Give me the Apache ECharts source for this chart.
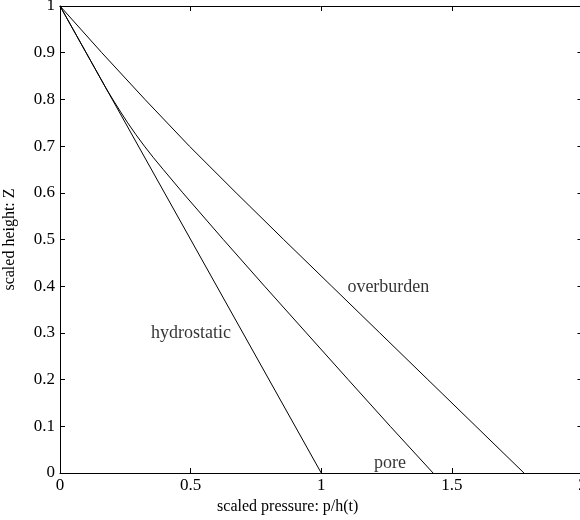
<!DOCTYPE html>
<html>
<head>
<meta charset="utf-8">
<script src="https://cdn.jsdelivr.net/npm/echarts@6/dist/echarts.min.js"></script>
<style>
html,body{margin:0;padding:0;background:#fff;}
#chart{width:580px;height:520px;}
</style>
</head>
<body>
<div id="chart"></div>
<script>
// scaled height Z (y) and scaled pressure p/h(t) (x) for each curve
const hydroZ = [1, 0];
const hydroP = [0, 1];

const poreZ = [1, 0.9, 0.85, 0.825, 0.8, 0.775, 0.75, 0.725, 0.7, 0.675, 0.65, 0.6, 0.5, 0.4, 0.3, 0.2, 0.1, 0];
const poreP = [0, 0.1, 0.15, 0.175, 0.202, 0.23, 0.259, 0.29, 0.323, 0.358, 0.395, 0.47, 0.625, 0.783, 0.943, 1.103, 1.264, 1.428];

const overZ = [1, 0.9, 0.8, 0.7, 0.6, 0.5, 0.4, 0.3, 0.2, 0.1, 0];
const overP = [0, 0.160, 0.325, 0.495, 0.674, 0.856, 1.040, 1.224, 1.408, 1.592, 1.776];

const labelText = ['overburden', 'hydrostatic', 'pore'];
const labelP = [1.100, 0.348, 1.202];
const labelZ = [0.397, 0.300, 0.020];

const xTicks = {min: 0, max: 2, interval: 0.5};
const yTicks = {min: 0, max: 1, interval: 0.1};

const pairs = (xs, ys) => xs.map((x, i) => [x, ys[i]]);
const serif = 'Liberation Serif, Times New Roman, serif';

const chart = echarts.init(document.getElementById('chart'), null, {renderer: 'canvas'});
const axisLine = {show: true, onZero: false, lineStyle: {color: '#000', width: 1}};
const tick = {show: true, inside: true, length: 5, lineStyle: {color: '#000', width: 1}};

chart.setOption({
  animation: false,
  backgroundColor: '#fff',
  grid: {left: 60, top: 6, width: 522.5, height: 467, containLabel: false, outerBoundsMode: 'none'},
  xAxis: [{
    type: 'value', position: 'bottom', min: xTicks.min, max: xTicks.max, interval: xTicks.interval,
    axisLine, axisTick: tick, splitLine: {show: false},
    axisLabel: {color: '#000', fontFamily: serif, fontSize: 17, margin: 4},
    name: 'scaled pressure: p/h(t)', nameLocation: 'middle', nameGap: 22,
    nameTextStyle: {color: '#000', fontFamily: serif, fontSize: 16, padding: [0, 67, 0, 0]}
  }, {
    type: 'value', position: 'top', min: xTicks.min, max: xTicks.max, interval: xTicks.interval,
    axisLine, axisTick: tick, splitLine: {show: false}, axisLabel: {show: false}
  }],
  yAxis: [{
    type: 'value', position: 'left', min: yTicks.min, max: yTicks.max, interval: yTicks.interval,
    axisLine, axisTick: tick, splitLine: {show: false},
    axisLabel: {color: '#000', fontFamily: serif, fontSize: 17, margin: 5},
    name: 'scaled height: Z', nameLocation: 'middle', nameGap: 42, nameRotate: 90,
    nameTextStyle: {color: '#000', fontFamily: serif, fontSize: 16}
  }, {
    type: 'value', position: 'right', min: yTicks.min, max: yTicks.max, interval: yTicks.interval,
    axisLine, axisTick: tick, splitLine: {show: false}, axisLabel: {show: false}
  }],
  series: [
    {type: 'line', name: 'hydrostatic', data: pairs(hydroP, hydroZ), showSymbol: false, symbol: 'none',
     lineStyle: {color: '#000', width: 1}, clip: true},
    {type: 'line', name: 'pore', data: pairs(poreP, poreZ), showSymbol: false, symbol: 'none',
     lineStyle: {color: '#000', width: 1}, clip: true},
    {type: 'line', name: 'overburden', data: pairs(overP, overZ), showSymbol: false, symbol: 'none',
     lineStyle: {color: '#000', width: 1}, clip: true},
    {type: 'scatter', symbolSize: 0, silent: true,
     data: labelText.map((t, i) => ({value: [labelP[i], labelZ[i]], name: t})),
     label: {show: true, position: 'right', distance: 0, formatter: p => p.name,
             color: '#000', fontFamily: serif, fontSize: 18, verticalAlign: 'middle', align: 'left'}}
  ]
});
</script>
</body>
</html>
